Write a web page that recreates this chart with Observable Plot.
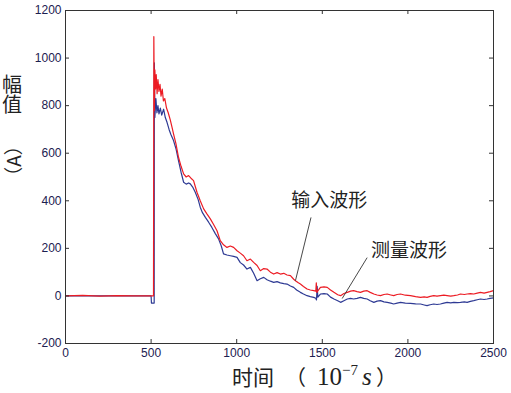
<!DOCTYPE html>
<html>
<head>
<meta charset="utf-8">
<script src="https://cdn.jsdelivr.net/npm/d3@7"></script>
<script src="https://cdn.jsdelivr.net/npm/@observablehq/plot@0.6"></script>
<style>
  html, body { margin: 0; padding: 0; background: #fff; }
</style>
</head>
<body>
<div id="chart"></div>
<script>
// ---- Data ----
const xTicks = [0, 500, 1000, 1500, 2000, 2500];
const yTicks = [-200, 0, 200, 400, 600, 800, 1000, 1200];
const xTickLabels = ["0", "500", "1000", "1500", "2000", "2500"];
const yTickLabels = ["-200", "0", "200", "400", "600", "800", "1000", "1200"];

// 输入波形 (input waveform, red): [time (1e-7 s), amplitude (A)]
const inputWave = [
  [0,0],[100,2],[200,-1],[300,1],[400,0],[510,0],[514,0],[516,1090],[519,780],[522,950],
  [526,870],[530,930],[535,850],[540,910],[546,860],[552,890],[558,840],[565,870],[572,820],
  [580,830],[590,790],[600,770],[612,740],[622,710],[631,681],[645,640],[660,583],[675,545],
  [690,513],[705,500],[719,506],[733,495],[748,485],[758,460],[768,436],[787,400],[807,366],
  [826,345],[846,324],[865,300],[885,274],[904,232],[923,215],[943,204],[963,210],[982,204],
  [1002,190],[1021,180],[1040,169],[1060,148],[1080,155],[1099,141],[1119,128],[1138,106],
  [1158,115],[1177,113],[1197,100],[1216,92],[1236,98],[1255,92],[1275,95],[1294,88],[1314,85],
  [1333,70],[1343,64],[1360,55],[1372,50],[1390,40],[1411,29],[1430,25],[1450,22],[1462,20],
  [1465,55],[1468,15],[1473,20],[1489,36],[1510,38],[1529,36],[1548,25],[1568,15],[1590,5],
  [1607,1],[1626,10],[1646,15],[1665,20],[1683,22],[1703,18],[1723,15],[1742,20],[1762,22],
  [1780,15],[1801,8],[1820,4],[1840,1],[1860,6],[1879,8],[1900,4],[1917,1],[1937,6],[1957,8],
  [1985,3],[2015,1],[2045,-3],[2074,-6],[2095,-4],[2112,-6],[2130,-2],[2151,1],[2170,-1],
  [2190,1],[2210,3],[2229,1],[2250,-1],[2268,1],[2290,4],[2307,8],[2330,6],[2346,8],[2365,10],
  [2385,8],[2405,12],[2424,15],[2445,12],[2463,15],[2480,18],[2500,22]
];

// 测量波形 (measured waveform, blue)
const measuredWave = [
  [0,0],[100,0],[200,0],[300,0],[400,0],[500,0],[502,-30],[518,-30],[519,980],[522,750],
  [528,830],[534,770],[540,800],[546,765],[554,790],[562,760],[573,785],[583,750],[593,730],
  [605,700],[615,680],[631,653],[645,620],[660,569],[675,520],[690,478],[705,470],[719,475],
  [729,471],[745,455],[758,436],[775,405],[787,373],[800,350],[817,330],[836,310],[855,288],
  [875,262],[894,240],[910,210],[923,177],[943,172],[963,169],[982,166],[1002,162],[1021,140],
  [1040,130],[1060,113],[1080,120],[1099,95],[1119,64],[1138,72],[1158,78],[1177,68],[1197,62],
  [1216,57],[1236,60],[1255,55],[1275,52],[1294,50],[1314,42],[1333,36],[1350,25],[1372,15],
  [1390,8],[1411,1],[1430,-3],[1450,-6],[1462,-10],[1466,-17],[1470,40],[1474,-5],[1489,8],
  [1510,10],[1529,8],[1548,-5],[1568,-13],[1590,-20],[1607,-27],[1626,-20],[1646,-13],
  [1665,-10],[1683,-13],[1703,-10],[1723,-6],[1742,-10],[1762,-13],[1780,-20],[1801,-27],
  [1820,-22],[1840,-20],[1860,-25],[1879,-27],[1900,-30],[1917,-34],[1937,-30],[1957,-27],
  [1985,-30],[2015,-31],[2045,-33],[2074,-34],[2095,-38],[2112,-41],[2130,-37],[2151,-34],
  [2170,-36],[2190,-34],[2210,-30],[2229,-27],[2250,-29],[2268,-27],[2290,-28],[2307,-27],
  [2330,-25],[2346,-27],[2365,-23],[2385,-20],[2405,-16],[2424,-13],[2445,-15],[2463,-13],
  [2480,-10],[2500,-8]
];

// Annotations: label text, label position, leader line (data units)
const annotationLabels = ["输入波形", "测量波形"];
const annotationTextPos = [[1541, 399], [2006, 190]];
const annotationLeaders = [[1434, 330, 1343, 64], [1762, 161, 1616, -11]];

// ---- Layout ----
const W = 511, H = 393;
const mL = 65, mR = 18, mT = 10, mB = 50;
const plotW = W - mL - mR, plotH = H - mT - mB;
const tickLen = 4;
const labelColor = "#1c2050";
const cjk = "'Noto Sans CJK SC', 'Noto Sans', sans-serif";
const serif = "'Liberation Serif', 'Times New Roman', serif";

const annotations = annotationLabels.map((t, i) => ({
  text: t, x: annotationTextPos[i][0], y: annotationTextPos[i][1],
  x1: annotationLeaders[i][0], y1: annotationLeaders[i][1],
  x2: annotationLeaders[i][2], y2: annotationLeaders[i][3]
}));

const chart = Plot.plot({
  width: W, height: H,
  marginLeft: mL, marginRight: mR, marginTop: mT, marginBottom: mB,
  style: { fontFamily: "'Liberation Sans', Arial, sans-serif", fontSize: "12px", background: "#fff" },
  x: { domain: [0, 2500] },
  y: { domain: [-200, 1200] },
  marks: [
    Plot.line(measuredWave, { x: d => d[0], y: d => d[1], stroke: "#2e3a94", strokeWidth: 1.2 }),
    Plot.line(inputWave, { x: d => d[0], y: d => d[1], stroke: "#ec1c24", strokeWidth: 1.2 }),
    Plot.frame({ stroke: "#333", strokeWidth: 1 }),
    // inward ticks on all four sides
    Plot.tickX(xTicks, { x: d => d, insetTop: plotH - tickLen, stroke: "#333" }),
    Plot.tickX(xTicks, { x: d => d, insetBottom: plotH - tickLen, stroke: "#333" }),
    Plot.tickY(yTicks, { y: d => d, insetRight: plotW - tickLen, stroke: "#333" }),
    Plot.tickY(yTicks, { y: d => d, insetLeft: plotW - tickLen, stroke: "#333" }),
    Plot.axisX(xTicks, { anchor: "bottom", tickSize: 0, tickPadding: 5, label: null,
      tickFormat: (d, i) => xTickLabels[i], fill: labelColor, fontSize: 12 }),
    Plot.axisY(yTicks, { anchor: "left", tickSize: 0, tickPadding: 4, label: null,
      tickFormat: (d, i) => yTickLabels[i], fill: labelColor, fontSize: 12 }),
    // annotations
    Plot.link(annotations, { x1: "x1", y1: "y1", x2: "x2", y2: "y2", stroke: "#333", strokeWidth: 0.9 }),
    Plot.text(annotations, { x: "x", y: "y", text: "text", fontSize: 19, fill: "#222",
      fontFamily: cjk })
  ]
});

const svg = d3.select(chart);

// X axis title: 时间（10^-7 s）
const xt = svg.append("text").attr("y", 385).attr("fill", "#222").attr("text-anchor", "start");
xt.append("tspan").attr("x", 232).style("font-family", cjk).style("font-size", "21px").text("时间");
xt.append("tspan").attr("x", 285).style("font-family", cjk).style("font-size", "21px").text("（");
xt.append("tspan").attr("x", 317).style("font-family", serif).style("font-size", "25px").text("10");
xt.append("tspan").attr("x", 342).attr("dy", -10).style("font-family", serif).style("font-size", "15px").text("−7");
xt.append("tspan").attr("x", 362).attr("dy", 10).style("font-family", serif).style("font-style", "italic").style("font-size", "25px").text("s");
xt.append("tspan").attr("x", 376).style("font-family", cjk).style("font-size", "21px").text("）");

// Y axis title: 幅值 set vertically (upright), （A） rotated
svg.append("text").attr("x", 12).attr("y", 74).attr("text-anchor", "start").attr("fill", "#222")
  .style("writing-mode", "vertical-rl").style("text-orientation", "upright")
  .style("font-family", cjk).style("font-size", "20px").text("幅值");
svg.append("text").attr("transform", "translate(12,161) rotate(-90)").attr("text-anchor", "middle").attr("dominant-baseline", "central")
  .style("font-family", cjk).style("font-size", "19px").attr("fill", "#222").text("（A）");

document.getElementById("chart").appendChild(chart);
</script>
</body>
</html>
